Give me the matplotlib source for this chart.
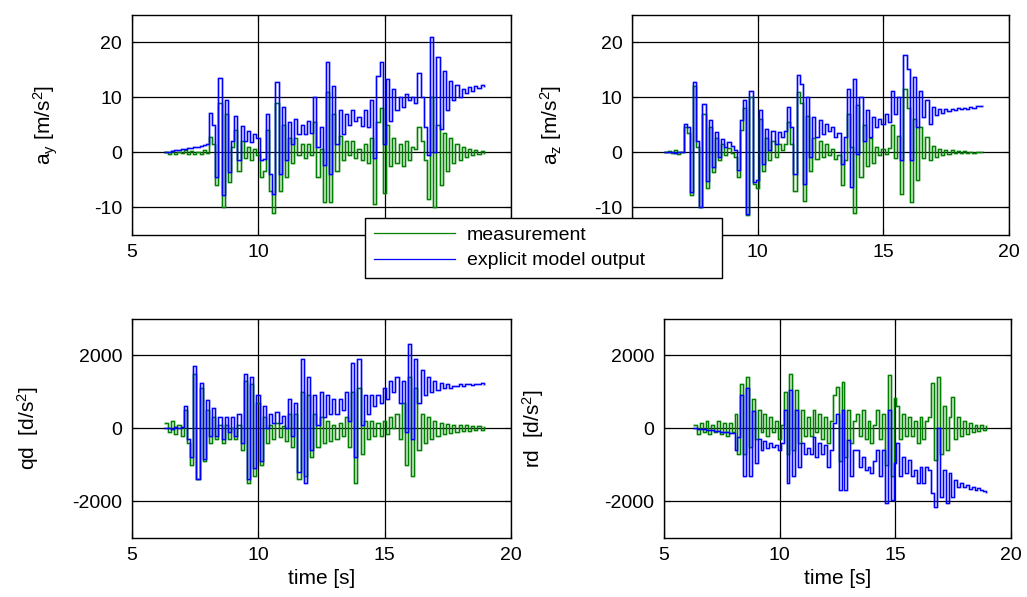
import numpy as np
import matplotlib
matplotlib.use("Agg")
import matplotlib.pyplot as plt

plt.rcParams["font.family"] = ["Liberation Sans", "DejaVu Sans"]
plt.rcParams["mathtext.fontset"] = "custom"
plt.rcParams["mathtext.rm"] = "Liberation Sans"
plt.rcParams["mathtext.it"] = "Liberation Sans"
plt.rcParams["axes.unicode_minus"] = False

# sampled signals, one value every 0.125 s starting at t = 6.3 s
T0 = 6.3
DT = 0.125

ay_meas = [
    0.0, -0.3, 0.2, -0.4, 0.1, -0.2, 0.3, -0.3,
    0.2, -0.4, 0.1, -0.3, 0.3, -0.2, 2.8, 1.5,
    -6.0, 9.0, -10.0, 7.0, -5.5, 1.0, 4.0, -3.5,
    2.0, -1.0, 1.0, -1.5, 0.5, -0.5, -4.5, -3.5,
    4.0, -7.0, -11.0, 9.0, -7.0, 5.0, -4.5, 2.5,
    -2.0, 2.5, -0.5, 1.5, -1.0, 1.5, -0.5, 5.5,
    -4.5, 0.5, -9.0, 11.0, -9.0, 7.0, -3.5, 3.0,
    -1.5, 2.0, -0.5, 2.0, -1.0, 0.5, -1.5, 1.5,
    -2.0, 2.5, -9.5, 5.5, 8.0, -7.5, 5.0, -2.5,
    2.5, -2.0, 1.5, -2.5, 2.0, -1.5, 1.0, 0.5,
    4.5, 2.0, -1.5, -8.5, 10.0, -10.0, 5.0, -6.0,
    3.5, -3.5, 2.5, -2.0, 1.5, -1.5, 1.0, -0.8,
    0.6, -0.5, 0.4, -0.3, 0.2, -0.2,
]
ay_model = [
    0.0, 0.1, 0.2, 0.3, 0.4, 0.5, 0.6, 0.7,
    0.8, 0.9, 1.0, 1.1, 1.3, 1.4, 7.1, 5.0,
    -4.5, 13.4, -7.8, 9.5, -3.6, 2.0, 6.5, -1.5,
    4.8, 2.1, 3.9, 1.8, 3.3, 2.5, -1.5, -1.2,
    7.0, -4.0, -7.6, 12.7, -4.0, 8.2, -1.5, 5.5,
    1.5, 6.0, 3.3, 5.0, 3.3, 5.7, 3.5, 10.0,
    1.0, 4.5, -2.4, 16.3, -4.0, 12.0, 1.5, 7.6,
    3.3, 7.0, 5.0, 7.6, 5.7, 6.3, 4.8, 7.6,
    4.5, 9.5, -1.0, 13.8, 16.3, 1.5, 13.3, 5.7,
    11.5, 7.6, 10.0, 8.2, 10.6, 9.4, 10.0, 9.0,
    14.4, 10.0, 4.5, -0.5, 21.0, 0.0, 17.3, 4.2,
    14.8, 7.6, 13.0, 9.4, 12.2, 10.0, 11.5, 10.8,
    11.8, 11.2, 12.0, 11.6, 12.2, 12.0,
]

az_meas = [
    0.0, 0.2, -0.2, 0.3, -0.3, 0.1, 4.5, 3.5,
    -7.8, 12.0, 1.0, -10.0, 7.0, -6.5, 4.5, -3.6,
    2.5, -1.5, 1.5, -0.5, 0.8, -0.2, -0.8, -4.5,
    4.0, 8.0, -11.5, 10.0, -5.8, -6.5, 6.0, -3.5,
    2.5, -1.5, 2.0, -0.8, 1.5, 0.3, 1.5, 5.5,
    1.5, -7.0, 11.0, 9.0, -8.8, 6.5, -3.5, 2.5,
    -1.2, 2.0, -0.8, 1.5, -0.5, 0.5, -1.2, -0.5,
    -6.0, -1.5, 7.0, 1.0, -11.0, 8.5, -4.5, 5.0,
    -2.5, 2.5, -2.0, 1.0, -0.5, 0.5, -0.3, 0.8,
    5.0, -1.0, 3.0, -7.6, 11.5, 8.0, -9.0, 6.0,
    -5.0, 4.5, -1.0, 2.7, -1.5, 1.2, -0.8, 0.6,
    -0.5, 0.4, -0.3, 0.3, -0.2, 0.2, -0.2, 0.2,
    -0.1, 0.1, -0.1, 0.1, 0.0, 0.1,
]
az_model = [
    0.0, 0.0, 0.1, -0.1, 0.1, 0.0, 5.2, 4.5,
    -7.3, 12.7, 2.0, -10.0, 8.8, -5.2, 5.8, -2.7,
    3.6, -0.9, 2.4, 0.9, 1.8, 1.2, 0.3, -3.3,
    5.8, 9.4, -11.2, 11.2, -5.5, -5.0, 7.6, -2.1,
    4.2, 0.3, 3.9, 1.5, 3.6, 2.7, 3.9, 8.2,
    4.5, -3.9, 14.0, 12.4, -5.8, 10.0, -0.9, 6.4,
    2.7, 5.8, 3.3, 5.2, 3.9, 4.5, 2.7, 3.5,
    -2.1, 2.7, 11.5, -6.4, 13.3, -0.3, 10.0, 2.1,
    7.6, 2.7, 6.4, 4.5, 6.0, 5.2, 7.0, 5.5,
    11.2, 7.0, 10.0, -1.5, 17.6, 15.2, -1.5, 13.6,
    4.5, 11.2, 6.4, 9.4, 5.2, 8.2, 6.7, 7.9,
    7.2, 7.8, 7.4, 7.9, 7.6, 8.0, 7.8, 8.1,
    7.9, 8.2, 8.1, 8.3, 8.4, 8.4,
]

qd_meas = [
    150, -100, 200, -150, 100, -200, 500, -400,
    -1000, 1500, -1400, 1100, -900, 500, -400, 300,
    -300, 100, -400, 100, -300, 0, -300, 100,
    -600, 1300, -1500, 1200, -1300, 700, -1000, 300,
    -400, 100, -300, 150, -250, 50, -350, 400,
    -500, 400, -1400, 1000, -1300, 900, -800, 400,
    -500, 300, -400, 200, -350, 100, -300, 150,
    -200, 300, -500, 1000, -1500, 1100, -700, 200,
    -300, 200, -200, 150, -200, 200, -150, 300,
    0, 400, -300, 700, -1000, 1400, -1300, 1100,
    -600, 400, -400, 300, -300, 200, -200, 150,
    -150, 120, -120, 100, -100, 100, -80, 80,
    -80, 60, -60, 50, -50, 40,
]
qd_model = [
    0, 20, -30, 40, 0, 30, 600, -300,
    -800, 1700, -1400, 1240, -830, 780, -200, 550,
    -200, 300, -300, 300, -100, 300, -200, 400,
    -400, 1500, -1400, 1400, -1100, 900, -900, 600,
    0, 400, 150, 450, 150, 350, 0, 800,
    -200, 700, -1200, 1900, -1500, 1400, -600, 900,
    100, 1000, 300, 900, 400, 800, 400, 800,
    500, 1000, 200, 1800, -800, 1900, 100, 900,
    400, 900, 600, 900, 700, 1100, 800, 1300,
    1000, 1400, 700, 1300, -100, 2300, -300, 1900,
    700, 1600, 900, 1400, 1000, 1300, 1050, 1250,
    1100, 1200, 1100, 1150, 1150, 1200, 1150, 1200,
    1200, 1180, 1220, 1200, 1230, 1200,
]

rd_meas = [
    100, -150, 150, -100, 200, -150, 100, -100,
    200, -150, 150, -200, 150, -100, 400, -700,
    1200, -700, 1400, -500, 800, -300, 500, -100,
    400, -200, 300, -100, 200, -300, 100, 1000,
    -700, 1500, -600, 1050, -400, 500, -200, 300,
    -200, 500, -100, 400, -300, 300, -400, 200,
    900, 1140, -900, 1280, -800, 500, -400, 200,
    400, -200, 500, -300, 200, -400, 100, 500,
    -300, 400, -1000, 1460, -1320, 820, 600, -300,
    400, -200, 300, -200, 200, -400, 300, -300,
    200, 300, 1230, -870, 1400, -700, 600, -600,
    300, 870, -300, 300, -200, 200, -150, 150,
    -100, 100, -80, 80, -50, 50,
]
rd_model = [
    0, -10, -20, -30, -40, -50, -60, -70,
    -80, -90, -100, -110, -120, -140, -600, -250,
    900, -1300, 1100, -1320, 460, -960, -300, -600,
    -350, -550, -400, -500, -450, -600, -400, 500,
    -1500, 1050, -1320, 500, -1050, -410, -700, -550,
    -700, -230, -780, -400, -700, -450, -1050, -600,
    140, 400, -1700, 500, -1700, -320, -1320, -600,
    -590, -1050, -780, -1140, -1050, -1230, -900, -590,
    -1320, -590, -2050, 500, -1960, -960, -410, -1320,
    -780, -1230, -870, -1320, -1140, -1500, -1050, -1500,
    -1050, -1140, -1780, -2150, 0, -1870, -1140, -2050,
    -1230, -1870, -1420, -1600, -1500, -1620, -1550, -1650,
    -1600, -1680, -1640, -1700, -1720, -1740,
]

X_TICKS = [5, 10, 15, 20]
PANELS = [
    # (measurement, model, ylabel, ylim, yticks, ylabel x, hidden x labels)
    (ay_meas, ay_model, r"a$_\mathregular{y}$ [m/s$^\mathregular{2}$]", (-15, 25), [-10, 0, 10, 20], -0.19, {15, 20}),
    (az_meas, az_model, r"a$_\mathregular{z}$ [m/s$^\mathregular{2}$]", (-15, 25), [-10, 0, 10, 20], -0.18, {5}),
    (qd_meas, qd_model, r"qd  [d/s$^\mathregular{2}$]", (-3000, 3000), [-2000, 0, 2000], -0.24, set()),
    (rd_meas, rd_model, r"rd  [d/s$^\mathregular{2}$]", (-3000, 3000), [-2000, 0, 2000], -0.34, set()),
]
POS = [
    [0.1285, 0.607, 0.369, 0.3685],
    [0.6154, 0.607, 0.367, 0.3685],
    [0.1285, 0.0992, 0.369, 0.3668],
    [0.6465, 0.0992, 0.3379, 0.3668],
]

GREEN = "#008000"
BLUE = "#0000ff"

fig = plt.figure(figsize=(10.27, 5.97), dpi=100, facecolor="white")

handles = None
for i, (meas, model, ylab, ylim, yticks, lx, hidden) in enumerate(PANELS):
    ax = fig.add_axes(POS[i])
    t = T0 + DT * np.arange(len(meas))
    ax.plot(t, meas, drawstyle="steps-post", color=GREEN, lw=2.0, alpha=0.28)
    h1, = ax.plot(t, meas, drawstyle="steps-post", color=GREEN, lw=0.9)
    ax.plot(t, model, drawstyle="steps-post", color=BLUE, lw=2.0, alpha=0.28)
    h2, = ax.plot(t, model, drawstyle="steps-post", color=BLUE, lw=0.9)
    handles = (h1, h2)

    ax.set_xlim(5, 20)
    ax.set_ylim(*ylim)
    ax.set_xticks(X_TICKS)
    ax.set_xticklabels(["" if v in hidden else str(v) for v in X_TICKS])
    ax.set_yticks(yticks)
    ax.grid(True, color="black", lw=0.9, ls="-")
    ax.set_axisbelow(True)
    ax.tick_params(direction="in", top=True, right=True, length=4,
                   labelsize=14, pad=7, color="black")
    for s in ax.spines.values():
        s.set_color("black")
        s.set_linewidth(1.0)
    ax.set_ylabel(ylab, fontsize=15)
    ax.yaxis.set_label_coords(lx, 0.5)
    if i >= 2:
        ax.set_xlabel("time [s]", fontsize=15, labelpad=3)

leg = fig.legend(
    handles, ["measurement", "explicit model output"],
    loc="lower left", bbox_to_anchor=(0.3554, 0.534, 0.3476, 0.114),
    mode="expand", fontsize=14, frameon=True, fancybox=False,
    edgecolor="black", framealpha=1, handlelength=4.2, handletextpad=0.6,
    borderaxespad=0, borderpad=0.45, labelspacing=0.4,
)
leg.get_frame().set_linewidth(1.0)

fig.savefig("out.png", dpi=100, facecolor="white")
